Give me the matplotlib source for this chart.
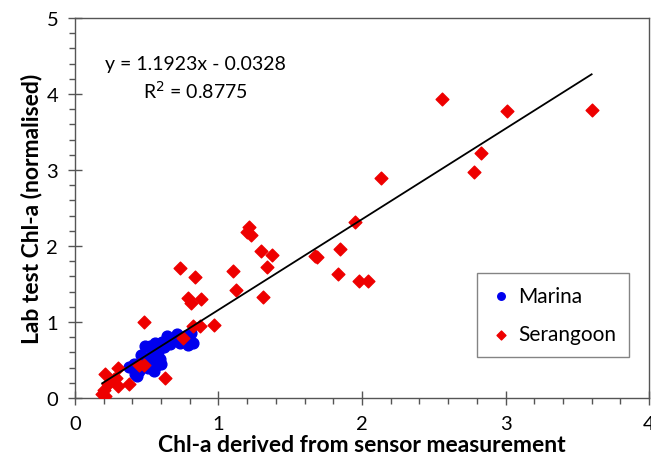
import numpy as np
import matplotlib
matplotlib.use("Agg")
import matplotlib.pyplot as plt
from matplotlib.ticker import MultipleLocator

plt.rcParams['font.family'] = ['Lato', 'DejaVu Sans']

# Marina samples (sensor, lab)
marina_x = [0.41, 0.42, 0.46, 0.50, 0.52, 0.56, 0.58, 0.62, 0.64, 0.66, 0.71, 0.73,
            0.77, 0.80, 0.81, 0.82, 0.55, 0.53, 0.60, 0.45, 0.43, 0.38, 0.57, 0.69, 0.49,
            0.47, 0.54, 0.61, 0.68, 0.75, 0.79, 0.44, 0.51, 0.59]
marina_y = [0.45, 0.32, 0.56, 0.51, 0.69, 0.73, 0.60, 0.67, 0.82, 0.71, 0.84, 0.73,
            0.82, 0.75, 0.86, 0.73, 0.36, 0.49, 0.45, 0.36, 0.29, 0.41, 0.43, 0.78, 0.69,
            0.48, 0.62, 0.74, 0.76, 0.77, 0.70, 0.39, 0.40, 0.52]

# Serangoon samples
ser_x = [2.56, 3.01, 3.60, 2.83, 2.78, 2.13, 1.95, 1.21, 1.20, 1.23, 1.30, 1.37, 1.34,
         1.10, 0.84, 1.12, 1.31, 0.79, 0.81, 0.88, 0.73, 1.67, 1.69, 1.85, 1.83, 1.98,
         2.04, 0.82, 0.87, 0.97, 0.75, 0.48, 0.45, 0.48, 0.30, 0.21, 0.63, 0.38, 0.30,
         0.27, 0.23, 0.20, 0.19, 0.21, 0.29]
ser_y = [3.94, 3.78, 3.79, 3.23, 2.98, 2.90, 2.32, 2.25, 2.19, 2.14, 1.94, 1.88, 1.73,
         1.67, 1.59, 1.42, 1.33, 1.32, 1.25, 1.30, 1.71, 1.87, 1.86, 1.96, 1.63, 1.54,
         1.54, 0.95, 0.95, 0.96, 0.79, 1.00, 0.44, 0.43, 0.39, 0.32, 0.27, 0.19, 0.16,
         0.25, 0.19, 0.10, 0.05, 0.03, 0.26]

slope = 1.1923
intercept = -0.0328
fit_range = [0.19, 3.60]

fig = plt.figure(figsize=(6.51, 4.64), dpi=100)
ax = fig.add_axes([0.115, 0.140, 0.882, 0.819])

ax.scatter(marina_x, marina_y, s=60, marker='o', color='#0000ee', label='Marina', zorder=3)
ax.scatter(ser_x, ser_y, s=42, marker='D', color='#ee0000', label='Serangoon', zorder=4)

xf = np.array(fit_range)
ax.plot(xf, slope * xf + intercept, color='black', linewidth=1.3, zorder=5)

ax.text(0.84, 4.40, 'y = 1.1923x - 0.0328', fontsize=14, ha='center', va='center')
ax.text(0.84, 4.05, 'R$^2$ = 0.8775', fontsize=14, ha='center', va='center')

ax.set_xlim(0, 4)
ax.set_ylim(0, 5)
ax.xaxis.set_major_locator(MultipleLocator(1))
ax.xaxis.set_minor_locator(MultipleLocator(0.2))
ax.yaxis.set_major_locator(MultipleLocator(1))
ax.yaxis.set_minor_locator(MultipleLocator(0.2))
ax.tick_params(which='major', direction='inout', length=10, width=1, color='#555555',
               labelsize=14.5, pad=7)
ax.tick_params(which='minor', direction='out', length=4, width=1, color='#555555')
for s in ax.spines.values():
    s.set_color('#555555')
    s.set_linewidth(1)

ax.set_xlabel('Chl-a derived from sensor measurement', fontsize=16.5, fontweight='bold', labelpad=2)
ax.set_ylabel('Lab test Chl-a (normalised)', fontsize=16.5, fontweight='bold', labelpad=3)

leg = ax.legend(loc='upper left', bbox_to_anchor=(0.700, 0.329), fontsize=15,
                frameon=True, fancybox=False, labelspacing=0.9, handletextpad=0.3,
                handlelength=1.1, markerscale=0.7, borderpad=0.6, borderaxespad=0)
leg.get_frame().set_edgecolor('#666666')
leg.get_frame().set_linewidth(1)

fig.savefig('out.png', dpi=100)
